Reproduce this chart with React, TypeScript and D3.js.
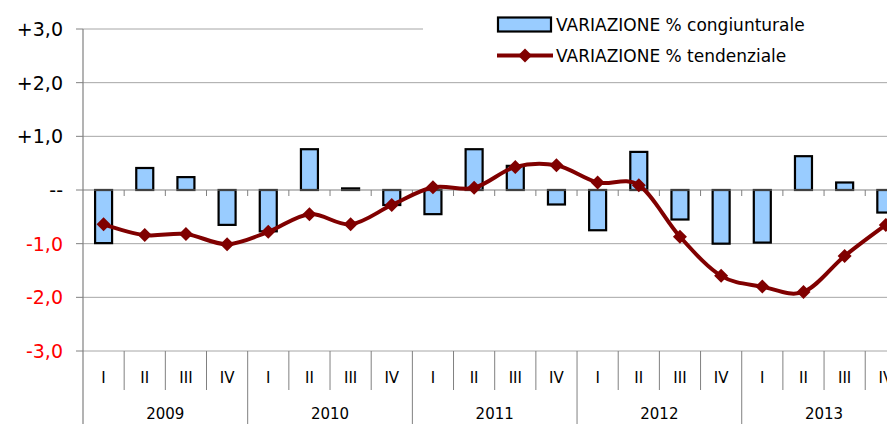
import React from "react";
import * as d3 from "d3";

const years = ["2009", "2010", "2011", "2012", "2013"];
const quarters = ["I", "II", "III", "IV"];
const categories = years.flatMap((y) => quarters.map((q) => `${q}-${y}`));
const congiunturale = [
  -0.99, 0.41, 0.24, -0.65,
  -0.77, 0.76, 0.03, -0.28,
  -0.45, 0.76, 0.45, -0.27,
  -0.75, 0.71, -0.55, -1.0,
  -0.98, 0.63, 0.14, -0.42,
];
const tendenziale = [
  -0.64, -0.84, -0.82, -1.01,
  -0.78, -0.45, -0.64, -0.28,
  0.05, 0.04, 0.43, 0.46,
  0.14, 0.09, -0.87, -1.6,
  -1.8, -1.9, -1.23, -0.65,
];
const yTicks = [3, 2, 1, 0, -1, -2, -3];
const yTickLabels = ["+3,0", "+2,0", "+1,0", "--", "-1,0", "-2,0", "-3,0"];
const legendLabels = ["VARIAZIONE % congiunturale", "VARIAZIONE % tendenziale"];

const W = 887;
const H = 424;
const left = 83;
const step = 41.17;
const FONT = "'DejaVu Sans', sans-serif";

export default function App() {
  const x = d3
    .scaleBand<string>()
    .domain(categories)
    .range([left, left + step * categories.length])
    .padding(0);
  const y = d3.scaleLinear().domain([-3, 3]).range([351, 29]);
  const bw = 17;
  const y0 = y(0);

  const line = d3
    .line<number>()
    .x((_, i) => x(categories[i])! + x.bandwidth() / 2)
    .y((d) => y(d))
    .curve(d3.curveCardinal.tension(0));

  const diamond = (cx: number, cy: number, r: number) =>
    `M${cx},${cy - r}L${cx + r},${cy}L${cx},${cy + r}L${cx - r},${cy}Z`;

  return (
    <svg
      width={W}
      height={H}
      style={{ position: "absolute", left: 0, top: 0, background: "#fff" }}
      fontFamily={FONT}
    >
      {/* gridlines */}
      {yTicks
        .filter((t) => t !== 0)
        .map((t) => (
          <line key={t} x1={left} x2={W} y1={y(t)} y2={y(t)} stroke="#a6a6a6" strokeWidth={1} />
        ))}
      {/* y axis */}
      <line x1={left} x2={left} y1={y(3)} y2={H} stroke="#808080" strokeWidth={1.2} />
      {yTicks.map((t, i) => (
        <g key={t}>
          <line x1={left - 7} x2={left} y1={y(t)} y2={y(t)} stroke="#808080" strokeWidth={1} />
          <text
            x={63}
            y={y(t)}
            textAnchor="end"
            dominantBaseline="central"
            fontSize={19}
            fill={t < 0 ? "#ff0000" : "#000"}
          >
            {yTickLabels[i]}
          </text>
        </g>
      ))}
      {/* bars */}
      {congiunturale.map((v, i) => {
        const cx = x(categories[i])! + x.bandwidth() / 2;
        const top = Math.min(y(v), y0);
        const h = Math.abs(y(v) - y0);
        return (
          <rect
            key={i}
            x={cx - bw / 2}
            y={top}
            width={bw}
            height={h}
            fill="#99ccff"
            stroke="#000"
            strokeWidth={2.2}
          />
        );
      })}
      {/* zero axis */}
      <line x1={left} x2={W} y1={y0} y2={y0} stroke="#808080" strokeWidth={1.2} />
      {categories.map((c) => (
        <line
          key={c}
          x1={x(c)! + x.bandwidth()}
          x2={x(c)! + x.bandwidth()}
          y1={y0}
          y2={y0 + 6}
          stroke="#808080"
          strokeWidth={1}
        />
      ))}
      {/* category axis at bottom */}
      {categories.map((c, i) => {
        const xr = x(c)! + x.bandwidth();
        const isYear = (i + 1) % 4 === 0;
        return (
          <line
            key={"s" + c}
            x1={xr}
            x2={xr}
            y1={y(-3)}
            y2={isYear ? H : 390}
            stroke="#808080"
            strokeWidth={1}
          />
        );
      })}
      {categories.map((c, i) => (
        <text
          key={"q" + c}
          x={x(c)! + x.bandwidth() / 2}
          y={378}
          textAnchor="middle"
          dominantBaseline="central"
          fontSize={15}
          fill="#000"
        >
          {quarters[i % 4]}
        </text>
      ))}
      {years.map((yr, i) => (
        <text
          key={yr}
          x={x(categories[i * 4])! + 2 * step}
          y={414}
          textAnchor="middle"
          dominantBaseline="central"
          fontSize={15}
          fill="#000"
        >
          {yr}
        </text>
      ))}
      {/* line */}
      <path d={line(tendenziale) || ""} fill="none" stroke="#800000" strokeWidth={4} />
      {tendenziale.map((v, i) => (
        <path
          key={i}
          d={diamond(x(categories[i])! + x.bandwidth() / 2, y(v), 7)}
          fill="#800000"
        />
      ))}
      {/* legend */}
      <rect x={423} y={0} width={W - 423} height={80} fill="#fff" />
      <rect x={498} y={17.5} width={53} height={14} fill="#99ccff" stroke="#000" strokeWidth={2.2} />
      <text x={556} y={25} dominantBaseline="central" fontSize={17} fill="#000">
        {legendLabels[0]}
      </text>
      <line x1={497} x2={553} y1={55.5} y2={55.5} stroke="#800000" strokeWidth={4} />
      <path d={diamond(525, 55.5, 7)} fill="#800000" />
      <text x={556} y={56} dominantBaseline="central" fontSize={17} fill="#000">
        {legendLabels[1]}
      </text>
    </svg>
  );
}
